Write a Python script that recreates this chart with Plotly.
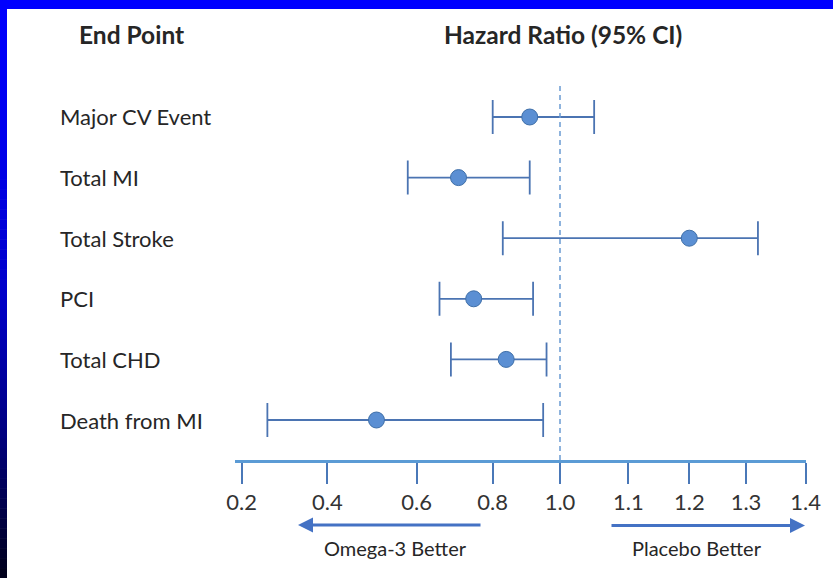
import numpy as np
import plotly.graph_objects as go

# ---- data -------------------------------------------------------------
END_POINTS = ["Major CV Event", "Total MI", "Total Stroke", "PCI", "Total CHD", "Death from MI"]
HR = [0.91, 0.71, 1.20, 0.75, 0.84, 0.51]
CI_LOW = [0.80, 0.58, 0.83, 0.66, 0.69, 0.26]
CI_HIGH = [1.05, 0.91, 1.32, 0.92, 0.96, 0.95]
TICK_VALUES = [0.2, 0.4, 0.6, 0.8, 1.0, 1.1, 1.2, 1.3, 1.4]
TICK_LABELS = ["0.2", "0.4", "0.6", "0.8", "1.0", "1.1", "1.2", "1.3", "1.4"]

# ---- layout constants (pixels) ----------------------------------------
W, H = 833, 578
# x of each tick on the piecewise hazard-ratio scale
AXIS_PX = [241.7, 327.3, 416.7, 492.7, 560.0, 628.3, 689.3, 746.0, 805.7]
AXIS_LEFT, AXIS_RIGHT = 235, 806
PLOT_TOP, PLOT_BOTTOM = 83, 460
ROW_FIRST, ROW_STEP = 117, 60.6

FONT = "Lato"
TEXT = "#262626"
BLUE_LINE = "#4B74B2"
AXIS_BLUE = "#5B9BD5"


def px(x):
    return x / W


def py(y):
    return 1 - y / H


def to_axis(v):
    return np.interp(v, TICK_VALUES, AXIS_PX)


hr_x = to_axis(HR)
lo_x = to_axis(CI_LOW)
hi_x = to_axis(CI_HIGH)

fig = go.Figure()
fig.add_trace(go.Scatter(
    x=hr_x, y=END_POINTS, mode="markers",
    marker=dict(size=16, color="#5B8FD3", line=dict(width=1, color="#3F6FA8")),
    error_x=dict(type="data", symmetric=False, array=hi_x - hr_x,
                 arrayminus=hr_x - lo_x, color=BLUE_LINE, thickness=1.8, width=17),
    hoverinfo="skip", showlegend=False,
))

# slide frame: solid blue band on top, shaded blue band on the left
shapes = [dict(type="rect", xref="paper", yref="paper", x0=0, x1=1,
               y0=py(9), y1=1, fillcolor="#0000FF", line_width=0, layer="below")]
grad_y = [0, 150, 300, 430, 578]
grad_b = [255, 235, 200, 130, 25]
n = 58
for i in range(n):
    top = i * H / n
    bot = (i + 1) * H / n
    b = int(np.interp((top + bot) / 2, grad_y, grad_b))
    shapes.append(dict(type="rect", xref="paper", yref="paper", x0=0, x1=px(7),
                       y0=max(py(bot) - 0.001, 0), y1=py(top),
                       fillcolor=f"rgb(0,0,{b})", line_width=0, layer="below"))

# reference line at HR = 1.0
shapes.append(dict(type="line", xref="x", yref="y domain",
                   x0=float(to_axis(1.0)), x1=float(to_axis(1.0)), y0=0, y1=1,
                   line=dict(color="#6A9AD2", width=1.5, dash="5px,4px")))


def label(text, x, y, size):
    return dict(text=text, x=px(x), y=py(y), xref="paper", yref="paper",
                xanchor="center", yanchor="middle", showarrow=False,
                font=dict(family=FONT, size=size, color=TEXT))


annotations = [
    label("<b>End Point</b>", 131, 34, 24.5),
    label("<b>Hazard Ratio (95% CI)</b>", 563, 34, 24.5),
    label("Omega-3 Better", 395, 548, 20),
    label("Placebo Better", 697, 548, 20),
    # direction arrows
    dict(text="", x=298, y=py(525), xref="x", yref="paper",
         ax=482, ay=0, axref="x", ayref="pixel", showarrow=True,
         arrowhead=2, arrowsize=1, arrowwidth=3, arrowcolor="#4472C4"),
    dict(text="", x=805, y=py(525.5), xref="x", yref="paper",
         ax=610, ay=0, axref="x", ayref="pixel", showarrow=True,
         arrowhead=2, arrowsize=1, arrowwidth=3, arrowcolor="#4472C4"),
]
for name in END_POINTS:
    annotations.append(dict(text=name, x=px(58), y=name, xref="paper", yref="y",
                            xanchor="left", yanchor="middle", showarrow=False,
                            font=dict(family=FONT, size=22, color=TEXT)))

y_top = (PLOT_TOP - ROW_FIRST) / ROW_STEP
y_bot = (PLOT_BOTTOM - ROW_FIRST) / ROW_STEP

fig.update_layout(
    width=W, height=H, autosize=False,
    margin=dict(l=0, r=0, t=0, b=0, autoexpand=False),
    paper_bgcolor="white", plot_bgcolor="rgba(0,0,0,0)",
    shapes=shapes, annotations=annotations,
    xaxis=dict(domain=[px(AXIS_LEFT), px(AXIS_RIGHT)], range=[AXIS_LEFT, AXIS_RIGHT],
               automargin=False, showgrid=False, zeroline=False, showline=True,
               linecolor=AXIS_BLUE, linewidth=3, ticks="outside", ticklen=21, tickwidth=2,
               tickcolor="#4A78B8", tickvals=to_axis(TICK_VALUES), ticktext=TICK_LABELS,
               tickfont=dict(family=FONT, size=22, color="#333333")),
    yaxis=dict(domain=[py(PLOT_BOTTOM), py(PLOT_TOP)], type="category",
               categoryorder="array", categoryarray=END_POINTS, automargin=False,
               range=[y_bot, y_top], showgrid=False, zeroline=False,
               showline=False, showticklabels=False, ticks=""),
)

fig.write_html("out.html", config={"displayModeBar": False})
